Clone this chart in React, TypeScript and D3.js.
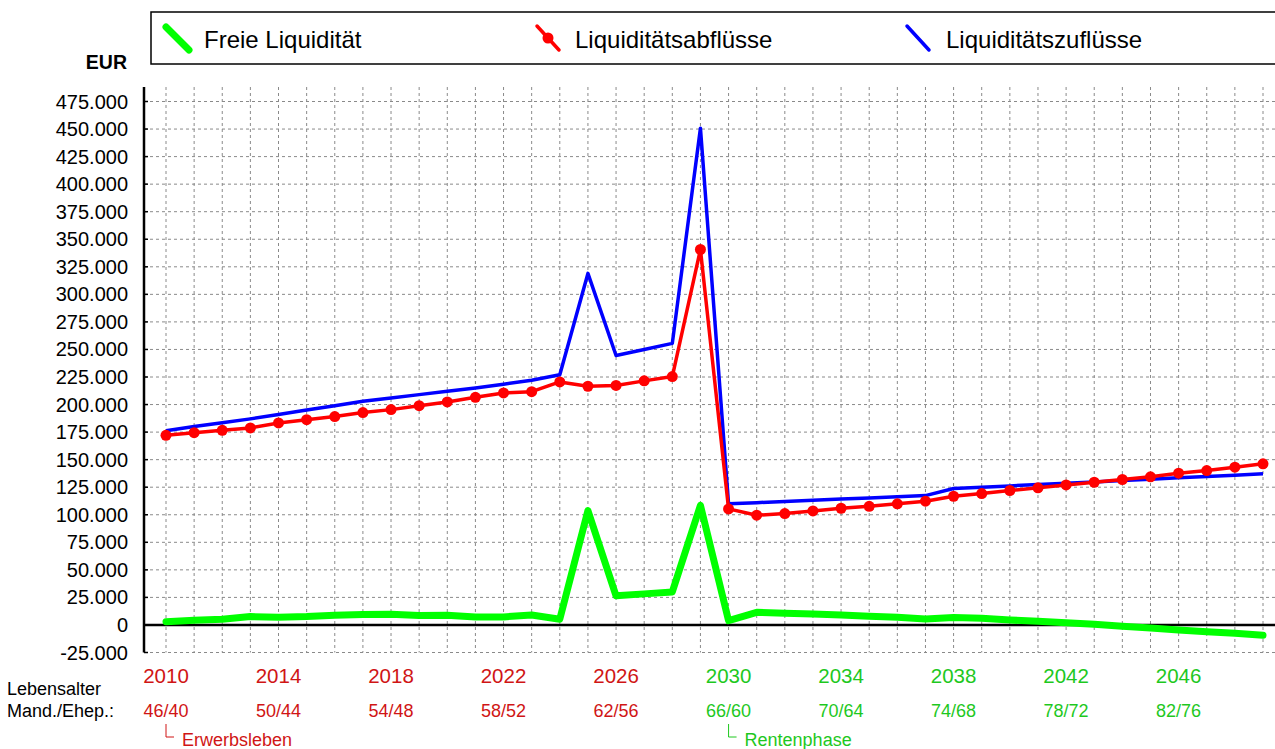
import React from "react";
import * as d3 from "d3";

const years = [
  2010, 2011, 2012, 2013, 2014, 2015, 2016, 2017, 2018, 2019,
  2020, 2021, 2022, 2023, 2024, 2025, 2026, 2027, 2028, 2029,
  2030, 2031, 2032, 2033, 2034, 2035, 2036, 2037, 2038, 2039,
  2040, 2041, 2042, 2043, 2044, 2045, 2046, 2047, 2048, 2049,
];

// Liquiditätszuflüsse (blue)
const inflows = [
  176300, 180000, 183500, 187000, 191000, 195000, 199000, 203000, 206000, 209000,
  212000, 215000, 218500, 222000, 227000, 319000, 244500, 250000, 255500, 450800,
  109900, 111000, 112000, 113100, 114200, 115300, 116300, 117400, 123800, 125000,
  126200, 127400, 128600, 129800, 131100, 132300, 133500, 134700, 135900, 137100,
];

// Liquiditätsabflüsse (red)
const outflows = [
  172100, 174500, 176600, 178800, 183300, 186300, 189100, 192700, 195400, 199000,
  202400, 206600, 210500, 211700, 220500, 216600, 217300, 221500, 225400, 340700,
  105300, 99600, 101100, 103500, 105900, 107700, 109900, 112300, 116800, 119200,
  122000, 124400, 127100, 129500, 132000, 134400, 137700, 140100, 143200, 146200,
];

// Freie Liquidität (green)
const freeLiquidity = [
  3000, 4200, 5200, 7600, 7000, 7600, 8800, 9400, 9700, 8500,
  8800, 7300, 7300, 9100, 5200, 103800, 26400, 28200, 30000, 108500,
  3900, 11500, 10600, 10000, 9100, 7900, 7000, 5400, 6700, 6100,
  4500, 3300, 2100, 600, -1200, -2700, -4500, -6100, -7600, -9400,
];

const yTicks = [
  -25000, 0, 25000, 50000, 75000, 100000, 125000, 150000, 175000, 200000,
  225000, 250000, 275000, 300000, 325000, 350000, 375000, 400000, 425000,
  450000, 475000,
];

const labelYears = [2010, 2014, 2018, 2022, 2026, 2030, 2034, 2038, 2042, 2046];
const ageLabels = ["46/40", "50/44", "54/48", "58/52", "62/56", "66/60", "70/64", "74/68", "78/72", "82/76"];
const retirementYear = 2030;

const legendItems = [
  { name: "Freie Liquidität", color: "#00ff00" },
  { name: "Liquiditätsabflüsse", color: "#ff0000" },
  { name: "Liquiditätszuflüsse", color: "#0000ff" },
];

const RED_TEXT = "#d01515";
const GREEN_TEXT = "#1ec81e";
const FONT = "'Liberation Sans', Arial, sans-serif";

export default function App() {
  const W = 1275;
  const H = 749;
  const plotLeft = 144;
  const plotRight = 1275;
  const plotTop = 87;
  const plotBottom = 652.5;

  const x = d3.scaleLinear().domain([2010, 2049]).range([166, 1263]);
  const y = d3.scaleLinear().domain([-25000, 475000]).range([652.5, 101.5]);

  const de = d3.formatLocale({ decimal: ",", thousands: ".", grouping: [3], currency: ["", " €"], minus: "-" });
  const fmt = de.format(",.0f");

  const line = d3
    .line<number>()
    .x((_, i) => x(years[i]))
    .y((d) => y(d));

  const vGrid = [...years, 2050];

  return (
    <svg
      width={W}
      height={H}
      style={{ position: "absolute", left: 0, top: 0, background: "#fff" }}
      fontFamily={FONT}
    >
      <rect x={0} y={0} width={W} height={H} fill="#fff" />

      {/* Legend */}
      <rect x={151} y={12} width={1150} height={52} fill="#fff" stroke="#000" strokeWidth={1.5} />
      <line x1={166} y1={27} x2={189} y2={50} stroke={legendItems[0].color} strokeWidth={7} strokeLinecap="round" />
      <text x={204} y={48} fontSize={24} fill="#000">{legendItems[0].name}</text>
      <line x1={537} y1={26} x2={559} y2={50} stroke={legendItems[1].color} strokeWidth={3.5} strokeLinecap="round" />
      <circle cx={548} cy={38} r={5.5} fill={legendItems[1].color} />
      <text x={575} y={48} fontSize={24} fill="#000">{legendItems[1].name}</text>
      <line x1={907} y1={26} x2={929} y2={50} stroke={legendItems[2].color} strokeWidth={3.5} strokeLinecap="round" />
      <text x={946} y={48} fontSize={24} fill="#000">{legendItems[2].name}</text>

      {/* EUR */}
      <text x={127} y={69} fontSize={19.5} fontWeight="bold" textAnchor="end" fill="#000">EUR</text>

      {/* Grid */}
      {yTicks.map((t) => (
        <line
          key={"h" + t}
          x1={plotLeft}
          x2={plotRight}
          y1={y(t)}
          y2={y(t)}
          stroke="#8a8a8a"
          strokeWidth={1}
          strokeDasharray="3,3"
        />
      ))}
      {vGrid.map((yr) => (
        <line
          key={"v" + yr}
          x1={x(yr)}
          x2={x(yr)}
          y1={plotTop}
          y2={plotBottom}
          stroke="#8a8a8a"
          strokeWidth={1}
          strokeDasharray="3,3"
        />
      ))}

      {/* Y tick labels */}
      {yTicks.map((t) => (
        <text key={"l" + t} x={128} y={y(t) + 7} fontSize={20} textAnchor="end" fill="#000">
          {fmt(t)}
        </text>
      ))}
      {yTicks.map((t) => (
        <line key={"tk" + t} x1={plotLeft} x2={plotLeft + 4} y1={y(t)} y2={y(t)} stroke="#000" strokeWidth={1.5} />
      ))}

      {/* Axes */}
      <line x1={plotLeft} x2={plotLeft} y1={plotTop} y2={plotBottom} stroke="#000" strokeWidth={2.5} />
      <line x1={plotLeft} x2={plotRight} y1={y(0)} y2={y(0)} stroke="#000" strokeWidth={2.5} />

      {/* Series */}
      <path d={line(freeLiquidity) || ""} fill="none" stroke="#00ff00" strokeWidth={7} strokeLinejoin="round" strokeLinecap="round" />
      <path d={line(inflows) || ""} fill="none" stroke="#0000ff" strokeWidth={3.5} strokeLinejoin="round" />
      <path d={line(outflows) || ""} fill="none" stroke="#ff0000" strokeWidth={3.5} strokeLinejoin="round" />
      {outflows.map((v, i) => (
        <circle key={"d" + i} cx={x(years[i])} cy={y(v)} r={5.5} fill="#ff0000" />
      ))}

      {/* Bottom labels */}
      <text x={7} y={695} fontSize={18} fill="#000">Lebensalter</text>
      <text x={7} y={717} fontSize={18} fill="#000">Mand./Ehep.:</text>
      {labelYears.map((yr, i) => {
        const c = yr < retirementYear ? RED_TEXT : GREEN_TEXT;
        return (
          <g key={"yl" + yr}>
            <text x={x(yr)} y={683} fontSize={20.5} textAnchor="middle" fill={c}>{yr}</text>
            <text x={x(yr)} y={717} fontSize={18} textAnchor="middle" fill={c}>{ageLabels[i]}</text>
          </g>
        );
      })}

      {/* Phase markers */}
      <path d={`M${x(2010)},724 V737 H${x(2010) + 8}`} fill="none" stroke={RED_TEXT} strokeWidth={1} />
      <text x={x(2010) + 16} y={746} fontSize={18} fill={RED_TEXT}>Erwerbsleben</text>
      <path d={`M${x(2030)},724 V737 H${x(2030) + 8}`} fill="none" stroke={GREEN_TEXT} strokeWidth={1} />
      <text x={x(2030) + 16} y={746} fontSize={18} fill={GREEN_TEXT}>Rentenphase</text>
    </svg>
  );
}
